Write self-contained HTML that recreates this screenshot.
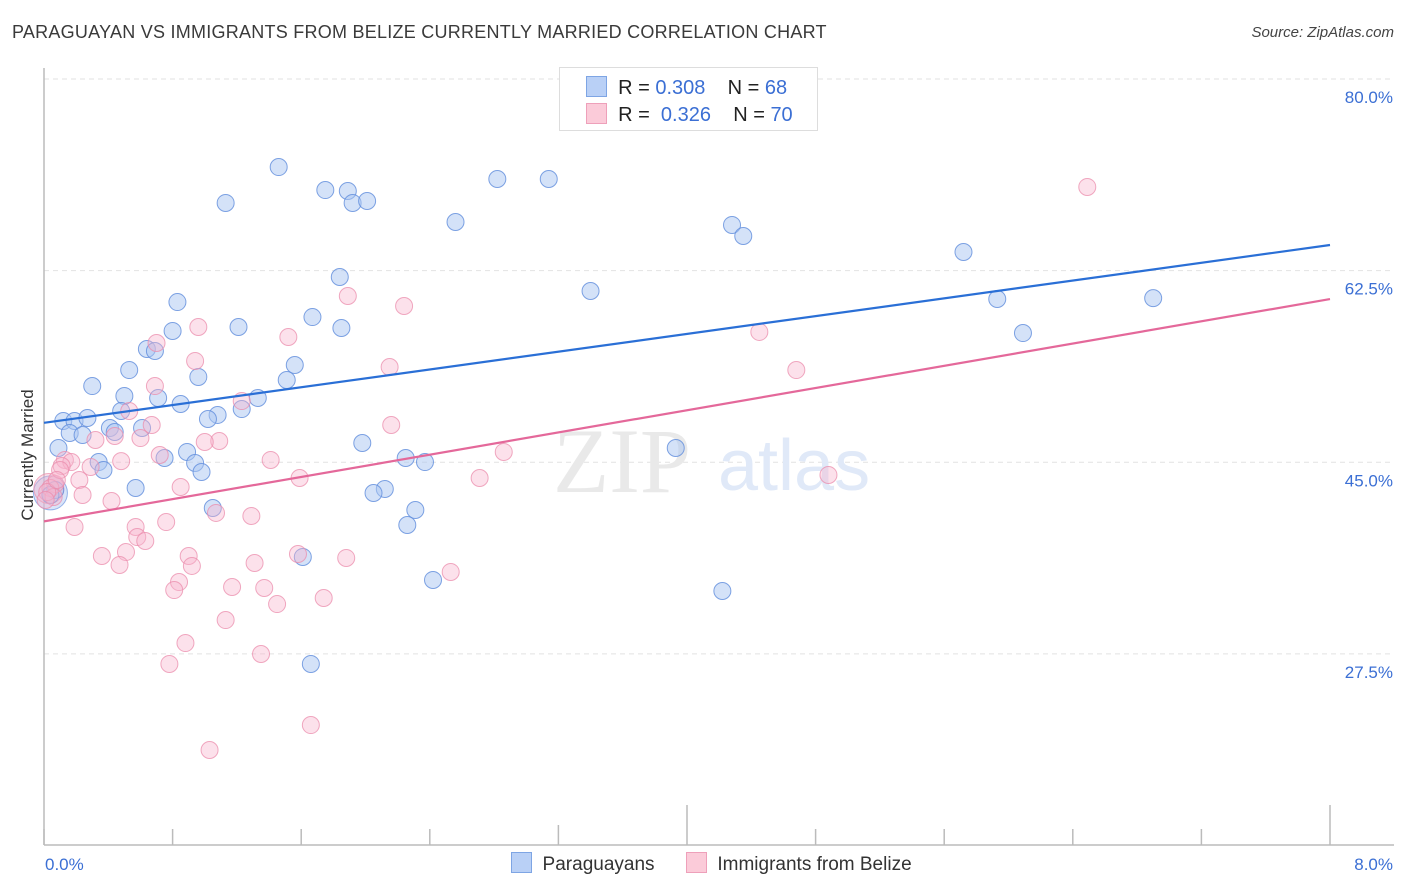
<!DOCTYPE html>
<html><head><meta charset="utf-8"><style>
body{margin:0;background:#fff;font-family:"Liberation Sans",sans-serif;}
#wrap{position:relative;width:1406px;height:892px;overflow:hidden;}
.t{position:absolute;white-space:nowrap;}
</style></head><body>
<div id="wrap">
<div class="t" style="left:12px;top:22px;font-size:18px;letter-spacing:0.25px;color:#3a3a3a;">PARAGUAYAN VS IMMIGRANTS FROM BELIZE CURRENTLY MARRIED CORRELATION CHART</div>
<div class="t" style="right:12px;top:24px;font-size:15px;font-style:italic;color:#444;">Source: ZipAtlas.com</div>
<svg id="chart" width="1406" height="892" style="position:absolute;left:0;top:0"></svg>
</div>
<script>
const blueX=[1.46,1.75,1.89,1.92,2.01,1.13,2.82,3.14,2.56,4.28,4.35,5.72,1.84,3.40,5.93,6.90,6.09,0.83,1.67,1.21,1.85,0.80,0.64,0.69,1.56,0.53,0.96,1.51,0.30,0.50,0.71,1.33,0.85,0.48,1.23,1.08,1.02,0.12,0.19,0.27,0.41,0.44,0.61,0.16,0.24,0.09,0.89,1.98,0.75,3.93,2.25,2.37,0.94,0.98,0.34,0.37,0.57,2.12,2.05,0.07,1.05,2.31,2.26,1.61,2.42,4.22,1.66,0.04];
const blueY=[71.96,69.86,69.77,68.68,68.86,68.68,70.87,70.87,66.94,66.67,65.66,64.2,61.92,60.64,59.91,59.99,56.8,59.63,58.26,57.35,57.26,56.99,55.34,55.16,53.88,53.42,52.79,52.51,51.96,51.05,50.87,50.87,50.32,49.68,49.86,49.32,48.95,48.77,48.77,49.04,48.13,47.76,48.13,47.67,47.49,46.3,45.94,46.76,45.39,46.3,45.39,45.02,44.93,44.11,45.02,44.29,42.65,42.56,42.19,42.47,40.82,40.64,39.27,36.35,34.25,33.24,26.58,42.01];
const pinkX=[6.49,1.89,2.24,4.45,1.52,0.96,0.70,0.94,2.15,4.68,0.69,1.23,0.53,0.67,2.16,0.44,0.60,0.32,1.09,1.00,2.86,0.72,0.13,0.17,0.48,0.29,1.41,0.11,1.59,2.71,4.88,0.85,0.22,0.07,0.04,0.24,0.06,0.42,1.07,1.29,0.76,0.19,0.57,0.58,0.63,0.36,0.51,1.58,0.90,1.88,0.92,0.47,1.31,2.53,0.84,1.17,1.37,0.81,1.74,1.45,1.13,0.88,1.35,0.78,1.66,1.03,0.10,0.02,0.01,0.08];
const pinkY=[70.14,60.18,59.27,56.9,56.44,57.35,55.89,54.25,53.7,53.42,51.96,50.59,49.68,48.4,48.4,47.4,47.21,47.03,46.94,46.85,45.94,45.66,45.21,45.02,45.1,44.57,45.21,44.66,43.56,43.56,43.84,42.74,43.38,43.01,42.65,42.01,41.83,41.46,40.37,40.09,39.54,39.09,39.09,38.17,37.81,36.44,36.8,36.62,36.44,36.26,35.53,35.62,35.8,34.98,34.06,33.61,33.52,33.33,32.6,32.05,30.59,28.49,27.49,26.58,21,18.72,44.29,42.28,41.55,43.38];
const blueTrend=[48.6,64.84];
const pinkTrend=[39.6,59.9];
const yTicks=[80,62.5,45,27.5];
const yTickLabels=["80.0%","62.5%","45.0%","27.5%"];
const xTicks=[0,0.8,1.6,2.4,3.2,4,4.8,5.6,6.4,7.2,8];

const NS="http://www.w3.org/2000/svg";
const svg=document.getElementById('chart');
const X0=44,X1=1330,Ytop=79;
const xs=v=>X0+v*(X1-X0)/8;
const ys=v=>Ytop+(80-v)*10.95;
function mk(tag,attrs,parent){const e=document.createElementNS(NS,tag);for(const k in attrs)e.setAttribute(k,attrs[k]);(parent||svg).appendChild(e);return e;}

yTicks.forEach((v,i)=>{
  const g=mk('line',{x1:44,x2:1394,y1:ys(v),y2:ys(v),stroke:'#e2e2e2','stroke-dasharray':'5,4','stroke-width':1});
  
  
  const t=mk('text',{x:1393,y:ys(v)+24,'text-anchor':'end','font-size':17,fill:'#3b6fd4','font-family':'Liberation Sans, sans-serif'});
  t.textContent=yTickLabels[i];
  
  
});
const wm=mk('text',{x:553,y:492,'font-size':92,fill:'#e9e9e9','font-family':'Liberation Serif, serif'});wm.textContent='ZIP';


const wm2=mk('text',{x:718,y:490,'font-size':72,fill:'#e0e9f8','font-family':'Liberation Sans, sans-serif'});wm2.textContent='atlas';


const ax=mk('line',{x1:44,x2:44,y1:68,y2:845,stroke:'#bbb','stroke-width':1.5});


const bx=mk('line',{x1:44,x2:1394,y1:845,y2:845,stroke:'#bbb','stroke-width':1.5});


xTicks.forEach((v,i)=>{
  const h=(i==5||i==10)?40:(i==4?20:16);
  const tk=mk('line',{x1:xs(v),x2:xs(v),y1:845-h,y2:845,stroke:'#bbb','stroke-width':1.5});
  
  
});
const xl0=mk('text',{x:45,y:870,'font-size':17,fill:'#3b6fd4','font-family':'Liberation Sans, sans-serif'});xl0.textContent='0.0%';


const xl1=mk('text',{x:1393,y:870,'text-anchor':'end','font-size':17,fill:'#3b6fd4','font-family':'Liberation Sans, sans-serif'});xl1.textContent='8.0%';


const yt=mk('text',{x:0,y:0,transform:'translate(33,455) rotate(-90)','text-anchor':'middle','font-size':17,fill:'#333','font-family':'Liberation Sans, sans-serif'});yt.textContent='Currently Married';



const b1=mk('circle',{cx:xs(0.04),cy:ys(42.2),r:17,fill:'rgba(170,195,240,0.45)',stroke:'rgba(110,150,225,0.7)'});


const b2=mk('circle',{cx:xs(0.03),cy:ys(42.6),r:15,fill:'rgba(245,175,200,0.4)',stroke:'rgba(235,140,170,0.7)'});



blueX.forEach((v,i)=>{
  const c=mk('circle',{cx:xs(v),cy:ys(blueY[i]),r:8.5,fill:'rgba(170,198,242,0.5)',stroke:'rgba(95,140,220,0.8)','stroke-width':1});
  
  
});
pinkX.forEach((v,i)=>{
  const c=mk('circle',{cx:xs(v),cy:ys(pinkY[i]),r:8.5,fill:'rgba(248,180,204,0.4)',stroke:'rgba(235,140,172,0.75)','stroke-width':1});
  
  
});
const l1=mk('line',{x1:xs(0),y1:ys(blueTrend[0]),x2:xs(8),y2:ys(blueTrend[1]),stroke:'#2a6fd6','stroke-width':2.2});


const l2=mk('line',{x1:xs(0),y1:ys(pinkTrend[0]),x2:xs(8),y2:ys(pinkTrend[1]),stroke:'#e4689a','stroke-width':2.2});


</script>
<div class="t" style="left:559px;top:67px;width:257px;height:62px;border:1px solid #ddd;background:#fff;">
  <div style="position:absolute;left:26px;top:8px;font-size:20px;color:#222;">
    <span style="display:inline-block;width:19px;height:19px;background:#b9d0f6;border:1px solid #7ea5e4;vertical-align:-3px;"></span>
    &nbsp;R = <span style="color:#3b6fd4">0.308</span>&nbsp;&nbsp;&nbsp; N = <span style="color:#3b6fd4">68</span></div>
  <div style="position:absolute;left:26px;top:35px;font-size:20px;color:#222;">
    <span style="display:inline-block;width:19px;height:19px;background:#fbcbd9;border:1px solid #eea0ba;vertical-align:-3px;"></span>
    &nbsp;R = &nbsp;<span style="color:#3b6fd4">0.326</span>&nbsp;&nbsp;&nbsp; N = <span style="color:#3b6fd4">70</span></div>
</div>
<div class="t" style="left:511px;top:852px;font-size:19px;color:#333;">
  <span><span style="display:inline-block;width:19px;height:19px;background:#b9d0f6;border:1px solid #7ea5e4;vertical-align:-3px;"></span>&nbsp; Paraguayans</span>
  <span style="margin-left:26px;"><span style="display:inline-block;width:19px;height:19px;background:#fbcbd9;border:1px solid #eea0ba;vertical-align:-3px;"></span>&nbsp; Immigrants from Belize</span>
</div>
</body></html>
